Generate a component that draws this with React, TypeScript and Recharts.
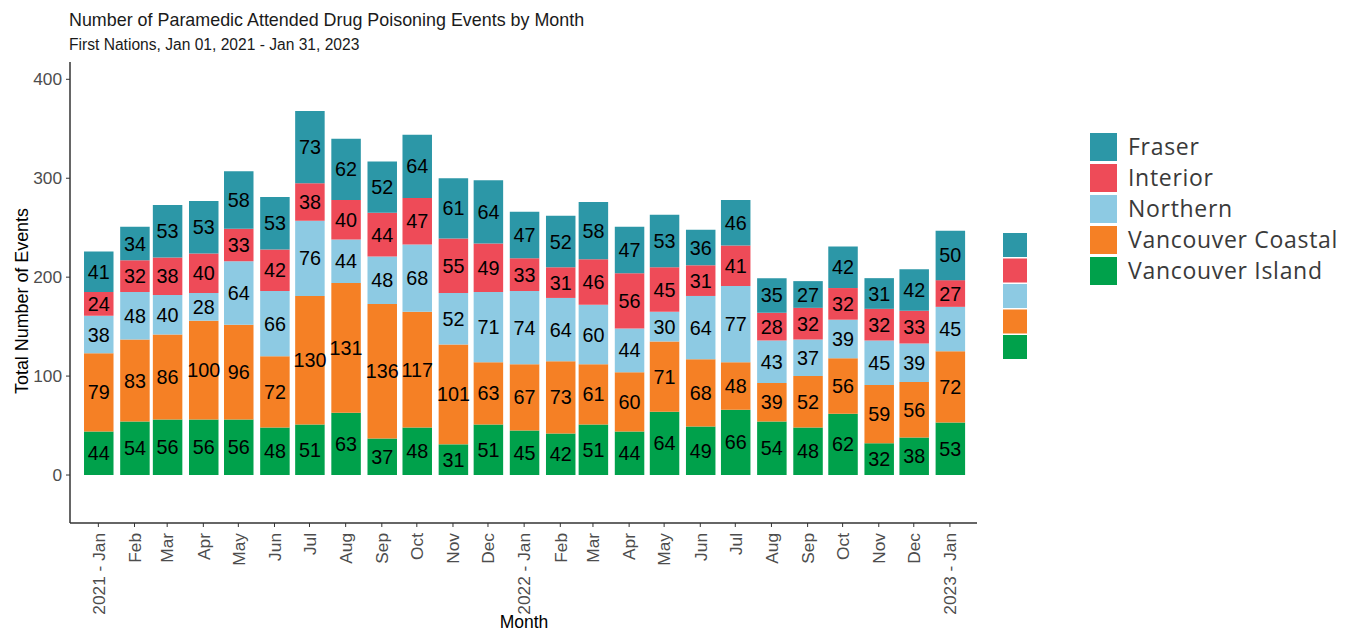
import React from 'react';
import { BarChart, Bar, XAxis, YAxis, LabelList, Legend } from 'recharts';

const monthStarts = [
  '2021-01-01', '2021-02-01', '2021-03-01', '2021-04-01', '2021-05-01', '2021-06-01',
  '2021-07-01', '2021-08-01', '2021-09-01', '2021-10-01', '2021-11-01', '2021-12-01',
  '2022-01-01', '2022-02-01', '2022-03-01', '2022-04-01', '2022-05-01', '2022-06-01',
  '2022-07-01', '2022-08-01', '2022-09-01', '2022-10-01', '2022-11-01', '2022-12-01',
  '2023-01-01',
];
const monthLabels = [
  '2021 - Jan', 'Feb', 'Mar', 'Apr', 'May', 'Jun', 'Jul', 'Aug', 'Sep', 'Oct', 'Nov', 'Dec',
  '2022 - Jan', 'Feb', 'Mar', 'Apr', 'May', 'Jun', 'Jul', 'Aug', 'Sep', 'Oct', 'Nov', 'Dec',
  '2023 - Jan',
];
const vancouverIsland = [44, 54, 56, 56, 56, 48, 51, 63, 37, 48, 31, 51, 45, 42, 51, 44, 64, 49, 66, 54, 48, 62, 32, 38, 53];
const vancouverCoastal = [79, 83, 86, 100, 96, 72, 130, 131, 136, 117, 101, 63, 67, 73, 61, 60, 71, 68, 48, 39, 52, 56, 59, 56, 72];
const northern = [38, 48, 40, 28, 64, 66, 76, 44, 48, 68, 52, 71, 74, 64, 60, 44, 30, 64, 77, 43, 37, 39, 45, 39, 45];
const interior = [24, 32, 38, 40, 33, 42, 38, 40, 44, 47, 55, 49, 33, 31, 46, 56, 45, 31, 41, 28, 32, 32, 32, 33, 27];
const fraser = [41, 34, 53, 53, 58, 53, 73, 62, 52, 64, 61, 64, 47, 52, 58, 47, 53, 36, 46, 35, 27, 42, 31, 42, 50];

const seriesNames = ['Fraser', 'Interior', 'Northern', 'Vancouver Coastal', 'Vancouver Island'];
const seriesColors = ['#2C97A7', '#EE4B58', '#8DCAE3', '#F58025', '#00A14B'];
const yTicks = [0, 100, 200, 300, 400];

const origin = Date.UTC(2021, 0, 1);
const dayOf = (s: string) => Math.round((Date.parse(s + 'T00:00:00Z') - origin) / 86400000);
const days = monthStarts.map(dayOf);

const data = days.map((d, i) => ({
  day: d,
  vi: vancouverIsland[i],
  vc: vancouverCoastal[i],
  no: northern[i],
  in: interior[i],
  fr: fraser[i],
}));

const stackOrder: { key: string; name: string; color: string }[] = [
  { key: 'vi', name: seriesNames[4], color: seriesColors[4] },
  { key: 'vc', name: seriesNames[3], color: seriesColors[3] },
  { key: 'no', name: seriesNames[2], color: seriesColors[2] },
  { key: 'in', name: seriesNames[1], color: seriesColors[1] },
  { key: 'fr', name: seriesNames[0], color: seriesColors[0] },
];

const FONT = '"Liberation Sans", Arial, sans-serif';

const XTick = (props: any) => {
  const { x, y, payload } = props;
  const idx = days.indexOf(payload.value);
  const label = idx >= 0 ? monthLabels[idx] : '';
  return (
    <g transform={`translate(${x},${y + 4})`}>
      <text
        transform="rotate(-90)"
        textAnchor="end"
        dy="0.36em"
        fontSize={17.3}
        fontFamily={FONT}
        fill="#4d4d4d"
      >
        {label}
      </text>
    </g>
  );
};

const LegendContent = () => (
  <svg width={340} height={250} style={{ display: 'block', overflow: 'visible' }}>
    {seriesColors.map((c, i) => (
      <rect key={'s' + i} x={13} y={113 + i * 25.5} width={24} height={24} fill={c} />
    ))}
    {seriesColors.map((c, i) => (
      <g key={'l' + i}>
        <rect x={100} y={13 + i * 31} width={27} height={28} fill={c} />
        <text
          x={138}
          y={35 + i * 31}
          fontSize={23}
          letterSpacing={0.7}
          fontFamily='"Open Sans", sans-serif'
          fill="#3a3a3a"
        >
          {seriesNames[i]}
        </text>
      </g>
    ))}
  </svg>
);

export default function App() {
  return (
    <BarChart
      width={1330}
      height={625}
      data={data}
      margin={{ top: 54, right: 361, bottom: 10, left: 0 }}
      barGap={0}
      style={{ overflow: 'visible' }}
    >
      <text x={61} y={18} fontSize={17.9} fontFamily={FONT} fill="#1a1a1a">
        Number of Paramedic Attended Drug Poisoning Events by Month
      </text>
      <text x={61} y={42} fontSize={15.6} fontFamily={FONT} fill="#1a1a1a">
        First Nations, Jan 01, 2021 - Jan 31, 2023
      </text>
      <text x={20} y={293} transform="rotate(-90, 20, 293)" textAnchor="middle" fontSize={17.9} fontFamily={FONT} fill="#000">
        Total Number of Events
      </text>
      <text x={516} y={620} textAnchor="middle" fontSize={17.5} fontFamily={FONT} fill="#000">
        Month
      </text>
      <XAxis
        dataKey="day"
        type="number"
        domain={[-24.3, 753.2]}
        ticks={days}
        interval={0}
        height={100}
        tick={<XTick />}
        tickSize={4}
        axisLine={{ stroke: '#333', strokeWidth: 1.5 }}
        tickLine={{ stroke: '#333' }}
        allowDataOverflow
      />
      <YAxis
        type="number"
        domain={[-48.5, 417.5]}
        ticks={yTicks}
        width={62}
        tickSize={4}
        tickMargin={4}
        tick={{ fontSize: 17.3, fontFamily: FONT, fill: '#4d4d4d' }}
        axisLine={{ stroke: '#333', strokeWidth: 1.5 }}
        tickLine={{ stroke: '#333' }}
        allowDataOverflow
      />
      {stackOrder.map((s) => (
        <Bar key={s.key} dataKey={s.key} name={s.name} stackId="a" fill={s.color} barSize={29.5} isAnimationActive={false}>
          <LabelList dataKey={s.key} position="center" fill="#000" fontSize={19.8} fontFamily={FONT} />
        </Bar>
      ))}
      <Legend
        layout="vertical"
        align="center"
        verticalAlign="middle"
        wrapperStyle={{ left: 982, top: 112, width: 340, height: 250, overflow: 'visible' }}
        content={<LegendContent />}
      />
    </BarChart>
  );
}
